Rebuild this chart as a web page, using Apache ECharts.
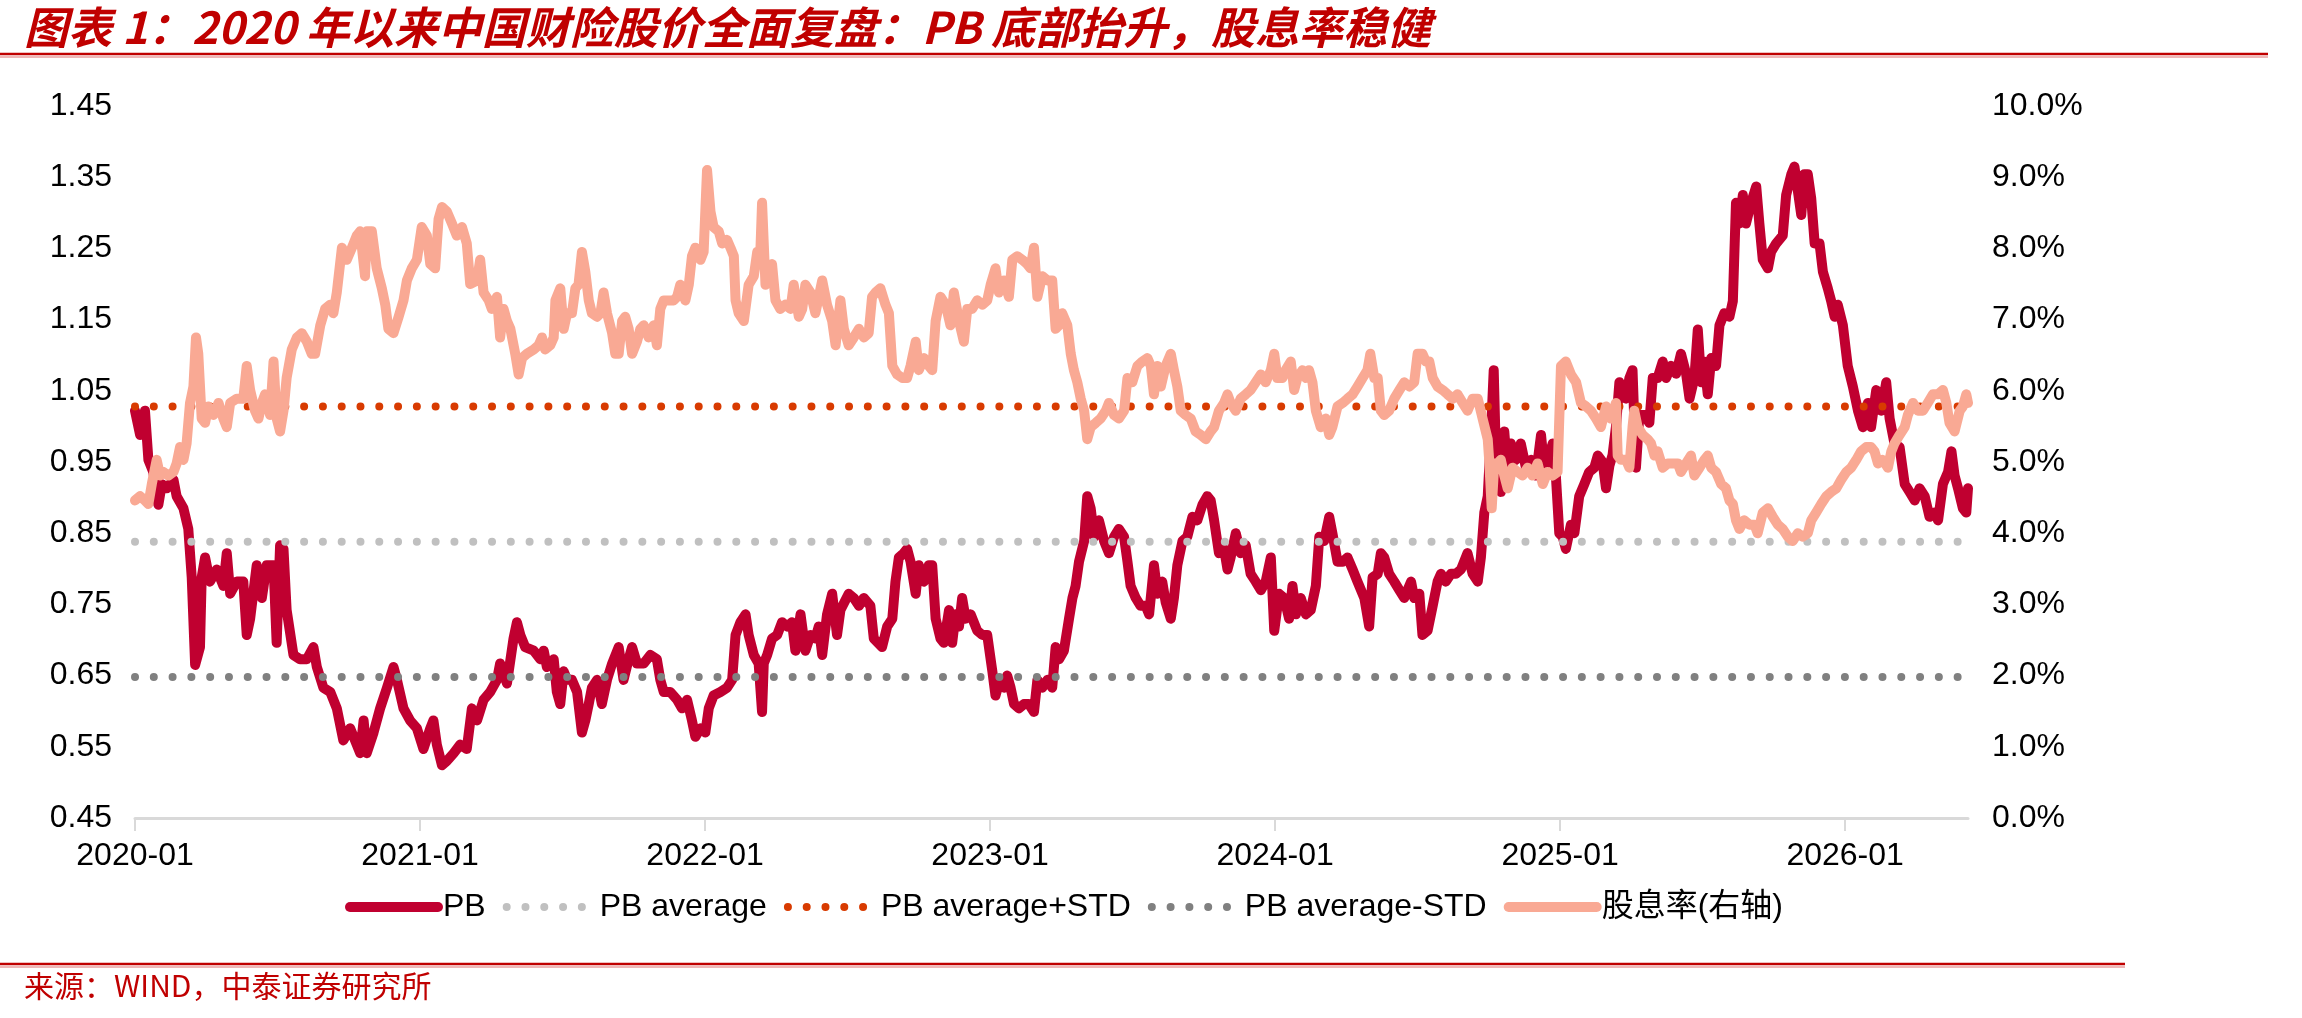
<!DOCTYPE html>
<html>
<head>
<meta charset="utf-8">
<title>中国财险 PB 与股息率</title>
<script src="https://cdn.jsdelivr.net/npm/echarts@6/dist/echarts.min.js"></script>
<style>
  html, body { margin: 0; padding: 0; background: #fff; }
  #main { width: 2302px; height: 1018px; }
</style>
</head>
<body>
<div id="main"></div>
<script>
// x 轴用小数年份表示日期（2020.5 ≈ 2020 年年中）
const xTicks = [2020, 2021, 2022, 2023, 2024, 2025, 2026];
const xTickLabels = ['2020-01', '2021-01', '2022-01', '2023-01', '2024-01', '2025-01', '2026-01'];
const pbTicks = [0.45, 0.55, 0.65, 0.75, 0.85, 0.95, 1.05, 1.15, 1.25, 1.35, 1.45];
const yieldTicks = [0, 1, 2, 3, 4, 5, 6, 7, 8, 9, 10];
const legendNames = ['PB', 'PB average', 'PB average+STD', 'PB average-STD', '股息率(右轴)'];

const dateStart = 2020.0;
const dateEnd = 2026.431;
const pbAverage = 0.838;
const pbAvgPlusStd = 1.028;
const pbAvgMinusStd = 0.648;

// PB，[日期, 值]
const pbData = [
  [2020.000,1.022],[2020.018,0.988],[2020.035,1.022],[2020.047,0.953],[2020.064,0.936],[2020.082,0.890],
  [2020.094,0.919],[2020.111,0.913],[2020.135,0.925],[2020.146,0.902],[2020.170,0.885],[2020.187,0.856],
  [2020.199,0.788],[2020.211,0.665],[2020.228,0.690],[2020.234,0.788],[2020.246,0.816],[2020.263,0.782],
  [2020.287,0.799],[2020.310,0.776],[2020.322,0.822],[2020.334,0.765],[2020.357,0.782],[2020.380,0.782],
  [2020.392,0.707],[2020.404,0.730],[2020.427,0.805],[2020.445,0.759],[2020.462,0.805],[2020.486,0.805],
  [2020.497,0.696],[2020.509,0.833],[2020.521,0.828],[2020.532,0.742],[2020.556,0.679],[2020.579,0.673],
  [2020.603,0.673],[2020.626,0.690],[2020.638,0.662],[2020.661,0.633],[2020.685,0.627],[2020.708,0.604],
  [2020.731,0.559],[2020.755,0.576],[2020.778,0.553],[2020.790,0.541],[2020.802,0.587],[2020.813,0.541],
  [2020.837,0.570],[2020.860,0.604],[2020.884,0.633],[2020.907,0.662],[2020.919,0.644],[2020.942,0.604],
  [2020.965,0.587],[2020.989,0.576],[2021.012,0.547],[2021.036,0.576],[2021.047,0.587],[2021.059,0.553],
  [2021.077,0.524],[2021.094,0.530],[2021.118,0.541],[2021.141,0.553],[2021.164,0.547],[2021.182,0.604],
  [2021.200,0.587],[2021.223,0.616],[2021.246,0.627],[2021.270,0.644],[2021.281,0.667],[2021.305,0.639],
  [2021.328,0.702],[2021.340,0.725],[2021.352,0.707],[2021.369,0.690],[2021.399,0.685],[2021.422,0.673],
  [2021.434,0.685],[2021.445,0.662],[2021.469,0.673],[2021.480,0.627],[2021.492,0.610],[2021.504,0.656],
  [2021.516,0.644],[2021.533,0.644],[2021.551,0.627],[2021.568,0.570],[2021.580,0.587],[2021.592,0.610],
  [2021.603,0.633],[2021.621,0.644],[2021.638,0.610],[2021.656,0.644],[2021.674,0.667],[2021.697,0.690],
  [2021.714,0.644],[2021.732,0.673],[2021.744,0.690],[2021.761,0.667],[2021.785,0.667],[2021.808,0.679],
  [2021.831,0.673],[2021.843,0.644],[2021.855,0.627],[2021.878,0.627],[2021.902,0.616],[2021.919,0.604],
  [2021.937,0.616],[2021.954,0.587],[2021.966,0.564],[2021.984,0.576],[2022.001,0.570],[2022.013,0.604],
  [2022.030,0.622],[2022.054,0.627],[2022.077,0.633],[2022.095,0.644],[2022.107,0.707],[2022.124,0.725],
  [2022.142,0.736],[2022.153,0.707],[2022.171,0.679],[2022.188,0.667],[2022.200,0.599],[2022.206,0.667],
  [2022.218,0.679],[2022.235,0.702],[2022.253,0.707],[2022.270,0.725],[2022.288,0.719],[2022.305,0.725],
  [2022.317,0.685],[2022.335,0.736],[2022.352,0.685],[2022.370,0.707],[2022.387,0.702],[2022.399,0.719],
  [2022.411,0.679],[2022.428,0.736],[2022.446,0.765],[2022.463,0.707],[2022.475,0.742],[2022.504,0.765],
  [2022.522,0.759],[2022.540,0.748],[2022.557,0.759],[2022.580,0.748],[2022.592,0.702],[2022.621,0.690],
  [2022.639,0.719],[2022.657,0.730],[2022.668,0.782],[2022.680,0.816],[2022.697,0.822],[2022.709,0.828],
  [2022.721,0.810],[2022.739,0.765],[2022.750,0.805],[2022.768,0.782],[2022.785,0.805],[2022.797,0.805],
  [2022.809,0.730],[2022.826,0.702],[2022.838,0.696],[2022.856,0.742],[2022.867,0.696],[2022.879,0.736],
  [2022.891,0.719],[2022.902,0.759],[2022.914,0.730],[2022.932,0.736],[2022.955,0.713],[2022.973,0.707],
  [2022.990,0.707],[2023.008,0.656],[2023.019,0.622],[2023.031,0.639],[2023.049,0.633],[2023.060,0.650],
  [2023.072,0.633],[2023.084,0.610],[2023.101,0.604],[2023.119,0.610],[2023.136,0.610],[2023.154,0.599],
  [2023.166,0.644],[2023.183,0.633],[2023.201,0.644],[2023.218,0.633],[2023.230,0.690],[2023.242,0.673],
  [2023.259,0.685],[2023.277,0.730],[2023.289,0.759],[2023.300,0.776],[2023.312,0.810],[2023.330,0.839],
  [2023.341,0.902],[2023.353,0.885],[2023.365,0.845],[2023.382,0.868],[2023.400,0.839],[2023.417,0.822],
  [2023.435,0.845],[2023.452,0.856],[2023.470,0.845],[2023.482,0.810],[2023.493,0.776],[2023.511,0.759],
  [2023.528,0.748],[2023.546,0.748],[2023.558,0.736],[2023.575,0.805],[2023.587,0.765],[2023.604,0.782],
  [2023.616,0.753],[2023.634,0.730],[2023.645,0.759],[2023.657,0.805],[2023.675,0.839],[2023.692,0.845],
  [2023.710,0.873],[2023.727,0.868],[2023.745,0.890],[2023.762,0.902],[2023.774,0.896],[2023.786,0.868],
  [2023.803,0.822],[2023.821,0.828],[2023.833,0.799],[2023.844,0.816],[2023.862,0.850],[2023.879,0.822],
  [2023.897,0.833],[2023.914,0.793],[2023.932,0.782],[2023.950,0.770],[2023.967,0.782],[2023.985,0.816],
  [2023.997,0.713],[2024.014,0.765],[2024.032,0.759],[2024.049,0.730],[2024.061,0.776],[2024.073,0.736],
  [2024.090,0.759],[2024.108,0.736],[2024.125,0.742],[2024.143,0.776],[2024.155,0.845],[2024.172,0.839],
  [2024.190,0.873],[2024.201,0.850],[2024.219,0.810],[2024.237,0.810],[2024.254,0.816],[2024.272,0.799],
  [2024.289,0.782],[2024.313,0.759],[2024.330,0.719],[2024.342,0.788],[2024.360,0.793],[2024.371,0.822],
  [2024.383,0.816],[2024.400,0.793],[2024.418,0.782],[2024.436,0.770],[2024.453,0.759],[2024.477,0.782],
  [2024.488,0.759],[2024.506,0.765],[2024.517,0.707],[2024.535,0.713],[2024.553,0.748],[2024.570,0.782],
  [2024.582,0.793],[2024.599,0.782],[2024.617,0.793],[2024.634,0.793],[2024.652,0.799],[2024.675,0.822],
  [2024.693,0.793],[2024.711,0.782],[2024.722,0.816],[2024.734,0.879],[2024.746,0.902],[2024.757,0.988],
  [2024.767,1.079],[2024.775,0.953],[2024.792,0.908],[2024.804,0.993],[2024.816,0.931],[2024.827,0.976],
  [2024.845,0.953],[2024.862,0.976],[2024.880,0.942],[2024.898,0.953],[2024.915,0.931],[2024.933,0.988],
  [2024.944,0.942],[2024.956,0.953],[2024.974,0.976],[2024.985,0.931],[2024.997,0.850],[2025.009,0.845],
  [2025.020,0.828],[2025.038,0.862],[2025.050,0.850],[2025.067,0.902],[2025.085,0.919],[2025.102,0.936],
  [2025.120,0.942],[2025.132,0.959],[2025.149,0.950],[2025.161,0.913],[2025.173,0.945],[2025.184,0.960],
  [2025.196,1.000],[2025.208,1.062],[2025.219,1.045],[2025.231,1.039],[2025.243,1.068],[2025.254,1.079],
  [2025.266,0.942],[2025.278,1.016],[2025.296,1.016],[2025.313,1.005],[2025.325,1.068],[2025.342,1.068],
  [2025.360,1.091],[2025.372,1.068],[2025.389,1.085],[2025.407,1.074],[2025.424,1.102],[2025.442,1.074],
  [2025.454,1.039],[2025.471,1.068],[2025.483,1.136],[2025.495,1.062],[2025.506,1.091],[2025.518,1.045],
  [2025.530,1.096],[2025.547,1.085],[2025.559,1.142],[2025.576,1.159],[2025.594,1.154],[2025.606,1.176],
  [2025.617,1.314],[2025.629,1.285],[2025.641,1.325],[2025.652,1.285],[2025.670,1.314],[2025.688,1.337],
  [2025.699,1.285],[2025.711,1.234],[2025.729,1.222],[2025.740,1.245],[2025.758,1.257],[2025.781,1.268],
  [2025.793,1.325],[2025.811,1.354],[2025.822,1.365],[2025.834,1.331],[2025.846,1.297],[2025.857,1.354],
  [2025.869,1.354],[2025.881,1.320],[2025.893,1.257],[2025.910,1.257],[2025.922,1.217],[2025.939,1.194],
  [2025.951,1.176],[2025.963,1.154],[2025.974,1.171],[2025.992,1.142],[2026.009,1.085],[2026.027,1.056],
  [2026.045,1.022],[2026.062,0.999],[2026.080,1.033],[2026.091,0.999],[2026.109,1.051],[2026.127,1.022],
  [2026.144,1.062],[2026.156,1.011],[2026.173,0.976],[2026.191,0.971],[2026.209,0.919],[2026.226,0.908],
  [2026.244,0.896],[2026.261,0.913],[2026.279,0.902],[2026.296,0.873],[2026.314,0.879],[2026.326,0.868],
  [2026.343,0.919],[2026.361,0.936],[2026.373,0.965],[2026.384,0.931],[2026.396,0.913],[2026.413,0.885],
  [2026.425,0.879],[2026.431,0.913]
];

// 股息率（%，右轴），[日期, 值]
const dividendYield = [
  [2020.000,4.46],[2020.018,4.52],[2020.035,4.46],[2020.047,4.41],[2020.059,4.69],[2020.076,5.03],
  [2020.088,4.81],[2020.099,4.86],[2020.117,4.81],[2020.135,4.86],[2020.146,4.98],[2020.158,5.21],
  [2020.170,5.03],[2020.181,5.26],[2020.193,5.83],[2020.205,6.06],[2020.214,6.75],[2020.222,6.52],
  [2020.234,5.61],[2020.246,5.55],[2020.257,5.78],[2020.275,5.66],[2020.293,5.83],[2020.310,5.61],
  [2020.322,5.49],[2020.334,5.83],[2020.357,5.89],[2020.380,5.89],[2020.392,6.35],[2020.404,6.01],
  [2020.421,5.72],[2020.433,5.61],[2020.445,5.83],[2020.456,5.95],[2020.474,5.66],[2020.486,6.41],
  [2020.497,5.61],[2020.509,5.43],[2020.521,5.72],[2020.532,6.18],[2020.550,6.58],[2020.568,6.75],
  [2020.585,6.81],[2020.603,6.69],[2020.620,6.52],[2020.632,6.52],[2020.650,6.92],[2020.667,7.15],
  [2020.685,7.21],[2020.696,7.09],[2020.708,7.38],[2020.726,8.01],[2020.743,7.84],[2020.761,8.01],
  [2020.778,8.18],[2020.790,8.24],[2020.807,7.61],[2020.813,8.24],[2020.831,8.24],[2020.848,7.72],
  [2020.866,7.44],[2020.878,7.21],[2020.889,6.87],[2020.907,6.81],[2020.925,7.04],[2020.942,7.27],
  [2020.954,7.55],[2020.971,7.72],[2020.989,7.84],[2021.006,8.30],[2021.024,8.18],[2021.036,7.78],
  [2021.053,7.72],[2021.065,8.41],[2021.077,8.58],[2021.094,8.52],[2021.112,8.35],[2021.129,8.18],
  [2021.147,8.30],[2021.164,8.07],[2021.176,7.50],[2021.200,7.55],[2021.211,7.84],[2021.223,7.38],
  [2021.241,7.27],[2021.252,7.15],[2021.270,7.32],[2021.281,6.75],[2021.293,7.15],[2021.305,6.98],
  [2021.317,6.87],[2021.334,6.52],[2021.346,6.23],[2021.358,6.46],[2021.375,6.52],[2021.399,6.58],
  [2021.416,6.64],[2021.428,6.75],[2021.439,6.58],[2021.457,6.64],[2021.469,6.75],[2021.475,7.27],
  [2021.492,7.44],[2021.504,6.87],[2021.516,7.09],[2021.533,7.09],[2021.545,7.44],[2021.556,7.49],
  [2021.568,7.95],[2021.580,7.67],[2021.592,7.27],[2021.603,7.09],[2021.621,7.04],[2021.633,7.09],
  [2021.644,7.38],[2021.656,7.09],[2021.674,6.81],[2021.685,6.52],[2021.697,6.52],[2021.709,6.98],
  [2021.720,7.04],[2021.732,6.87],[2021.744,6.52],[2021.761,6.69],[2021.773,6.87],[2021.785,6.92],
  [2021.802,6.75],[2021.820,6.92],[2021.831,6.64],[2021.843,7.15],[2021.855,7.27],[2021.872,7.27],
  [2021.890,7.27],[2021.902,7.32],[2021.913,7.49],[2021.931,7.27],[2021.943,7.49],[2021.954,7.89],
  [2021.966,8.01],[2021.984,7.84],[2021.995,7.95],[2022.007,9.10],[2022.019,8.52],[2022.030,8.30],
  [2022.048,8.24],[2022.060,8.07],[2022.077,8.12],[2022.089,8.01],[2022.101,7.89],[2022.107,7.27],
  [2022.118,7.09],[2022.136,6.98],[2022.153,7.49],[2022.171,7.61],[2022.183,7.95],[2022.194,7.95],
  [2022.200,8.64],[2022.212,7.49],[2022.224,7.67],[2022.235,7.78],[2022.247,7.27],[2022.264,7.15],
  [2022.282,7.21],[2022.300,7.15],[2022.311,7.49],[2022.329,7.04],[2022.341,7.15],[2022.352,7.49],
  [2022.370,7.38],[2022.387,7.09],[2022.399,7.32],[2022.411,7.55],[2022.428,7.21],[2022.446,6.98],
  [2022.458,6.64],[2022.475,7.27],[2022.487,6.87],[2022.504,6.64],[2022.522,6.75],[2022.540,6.87],
  [2022.557,6.75],[2022.574,6.81],[2022.586,7.32],[2022.598,7.38],[2022.615,7.44],[2022.633,7.21],
  [2022.645,7.09],[2022.657,6.35],[2022.674,6.23],[2022.692,6.18],[2022.709,6.18],[2022.721,6.35],
  [2022.739,6.69],[2022.750,6.29],[2022.768,6.46],[2022.785,6.35],[2022.797,6.29],[2022.809,6.98],
  [2022.826,7.32],[2022.844,7.21],[2022.861,6.92],[2022.873,7.38],[2022.891,6.98],[2022.908,6.69],
  [2022.920,7.15],[2022.937,7.15],[2022.955,7.27],[2022.973,7.21],[2022.990,7.27],[2023.002,7.49],
  [2023.019,7.72],[2023.031,7.38],[2023.049,7.55],[2023.066,7.32],[2023.078,7.84],[2023.095,7.89],
  [2023.113,7.84],[2023.130,7.78],[2023.142,7.72],[2023.154,8.01],[2023.166,7.32],[2023.183,7.61],
  [2023.201,7.55],[2023.218,7.55],[2023.230,6.87],[2023.242,6.92],[2023.253,7.09],[2023.271,6.92],
  [2023.283,6.52],[2023.294,6.29],[2023.306,6.12],[2023.318,5.89],[2023.330,5.72],[2023.341,5.32],
  [2023.353,5.49],[2023.371,5.55],[2023.388,5.61],[2023.406,5.72],[2023.417,5.83],[2023.435,5.66],
  [2023.452,5.61],[2023.470,5.72],[2023.482,6.18],[2023.499,6.12],[2023.517,6.35],[2023.534,6.41],
  [2023.552,6.46],[2023.564,6.35],[2023.575,5.95],[2023.587,6.35],[2023.599,6.06],[2023.616,6.35],
  [2023.634,6.52],[2023.645,6.29],[2023.657,6.06],[2023.669,5.72],[2023.686,5.66],[2023.704,5.61],
  [2023.721,5.43],[2023.739,5.38],[2023.757,5.32],[2023.774,5.43],[2023.786,5.49],[2023.803,5.72],
  [2023.821,5.83],[2023.833,5.95],[2023.844,5.83],[2023.862,5.72],[2023.879,5.89],[2023.897,5.95],
  [2023.914,6.01],[2023.932,6.12],[2023.950,6.23],[2023.967,6.12],[2023.985,6.29],[2023.997,6.52],
  [2024.008,6.18],[2024.026,6.18],[2024.037,6.29],[2024.055,6.41],[2024.067,6.01],[2024.078,6.18],
  [2024.096,6.29],[2024.108,6.18],[2024.119,6.29],[2024.131,6.12],[2024.143,5.72],[2024.160,5.49],
  [2024.178,5.61],[2024.190,5.38],[2024.201,5.49],[2024.219,5.78],[2024.237,5.83],[2024.254,5.89],
  [2024.272,5.95],[2024.289,6.06],[2024.307,6.18],[2024.324,6.29],[2024.334,6.52],[2024.348,6.18],
  [2024.360,6.18],[2024.371,5.72],[2024.383,5.66],[2024.400,5.72],[2024.418,5.89],[2024.436,6.01],
  [2024.453,6.12],[2024.471,6.06],[2024.488,6.12],[2024.500,6.52],[2024.517,6.52],[2024.529,6.41],
  [2024.541,6.41],[2024.553,6.18],[2024.570,6.06],[2024.588,6.01],[2024.605,5.95],[2024.623,5.89],
  [2024.640,5.95],[2024.658,5.83],[2024.675,5.72],[2024.693,5.89],[2024.711,5.89],[2024.728,5.61],
  [2024.746,5.32],[2024.751,5.03],[2024.760,4.35],[2024.769,4.98],[2024.781,4.98],[2024.792,5.03],
  [2024.804,4.81],[2024.816,4.63],[2024.833,4.92],[2024.851,4.86],[2024.868,4.81],[2024.886,4.92],
  [2024.903,4.81],[2024.921,4.98],[2024.939,4.69],[2024.956,4.86],[2024.974,4.81],[2024.991,4.86],
  [2025.003,6.35],[2025.020,6.41],[2025.038,6.23],[2025.056,6.12],[2025.073,5.83],[2025.091,5.78],
  [2025.108,5.72],[2025.126,5.61],[2025.143,5.49],[2025.161,5.78],[2025.178,5.61],[2025.196,5.83],
  [2025.202,5.09],[2025.213,5.03],[2025.231,5.03],[2025.243,4.92],[2025.254,5.49],[2025.260,5.72],
  [2025.272,5.49],[2025.290,5.38],[2025.307,5.32],[2025.319,5.26],[2025.331,5.09],[2025.342,5.15],
  [2025.360,4.92],[2025.378,4.98],[2025.395,4.98],[2025.413,4.98],[2025.424,4.86],[2025.442,4.98],
  [2025.459,5.09],[2025.471,4.81],[2025.489,4.92],[2025.506,5.03],[2025.518,5.09],[2025.530,4.92],
  [2025.547,4.86],[2025.565,4.69],[2025.582,4.63],[2025.594,4.46],[2025.606,4.41],[2025.617,4.18],
  [2025.629,4.06],[2025.646,4.18],[2025.664,4.12],[2025.682,4.12],[2025.693,4.00],[2025.711,4.29],
  [2025.729,4.35],[2025.746,4.23],[2025.764,4.12],[2025.781,4.06],[2025.799,3.95],[2025.816,3.89],
  [2025.834,4.00],[2025.851,3.95],[2025.869,4.00],[2025.881,4.18],[2025.898,4.29],[2025.916,4.41],
  [2025.934,4.52],[2025.951,4.58],[2025.969,4.63],[2025.986,4.75],[2026.004,4.86],[2026.021,4.92],
  [2026.039,5.03],[2026.056,5.15],[2026.074,5.21],[2026.091,5.21],[2026.103,5.15],[2026.115,4.98],
  [2026.132,5.03],[2026.150,4.92],[2026.162,5.15],[2026.173,5.26],[2026.191,5.38],[2026.209,5.49],
  [2026.220,5.66],[2026.238,5.83],[2026.255,5.72],[2026.273,5.72],[2026.290,5.83],[2026.308,5.95],
  [2026.326,5.95],[2026.343,6.01],[2026.355,5.83],[2026.366,5.55],[2026.384,5.43],[2026.402,5.72],
  [2026.413,5.78],[2026.425,5.95],[2026.431,5.83]
];

const FONT = "'Liberation Sans', Arial, 'Noto Sans CJK SC', sans-serif";
const CJK = "'Noto Sans CJK SC', 'Liberation Sans', sans-serif";

let myChart = echarts.init(document.getElementById('main'));

function flatLine(v) {
  return [[dateStart, v], [dateEnd, v]];
}

function dotted(color) {
  return {
    color: color,
    width: 8,
    type: [0.01, 18.78],
    cap: 'round'
  };
}

let option = {
  animation: false,
  backgroundColor: '#ffffff',
  title: {
    text: '图表 1：2020 年以来中国财险股价全面复盘：PB 底部抬升，股息率稳健',
    left: 24,
    top: 5,
    padding: 0,
    textStyle: {
      color: '#C00000',
      fontSize: 44,
      fontStyle: 'italic',
      fontWeight: 'bold',
      fontFamily: CJK
    }
  },
  legend: {
    data: legendNames,
    left: 345,
    top: 891,
    padding: 0,
    itemWidth: 88,
    itemHeight: 10,
    itemGap: 17,
    itemStyle: { opacity: 0 },
    lineStyle: { width: 'inherit' },
    textStyle: { color: '#000', fontSize: 32, fontFamily: FONT }
  },
  grid: {
    left: 135,
    right: 334,
    top: 106,
    bottom: 200
  },
  xAxis: {
    type: 'value',
    min: dateStart,
    max: dateEnd,
    splitLine: { show: false },
    axisLine: { show: true, lineStyle: { color: '#D9D9D9', width: 3 } },
    axisTick: {
      show: true,
      customValues: xTicks,
      length: 13,
      lineStyle: { color: '#D9D9D9', width: 2 }
    },
    axisLabel: {
      customValues: xTicks,
      margin: 22,
      color: '#000',
      fontSize: 32,
      fontFamily: FONT,
      formatter: function (v) {
        let i = xTicks.indexOf(Math.round(v));
        return i >= 0 ? xTickLabels[i] : '';
      }
    }
  },
  yAxis: [
    {
      type: 'value',
      min: 0.45,
      max: 1.45,
      splitLine: { show: false },
      axisLine: { show: false },
      axisTick: { show: false },
      axisLabel: {
        customValues: pbTicks,
        margin: 23,
        color: '#000',
        fontSize: 32,
        fontFamily: FONT,
        formatter: function (v) { return v.toFixed(2); }
      }
    },
    {
      type: 'value',
      min: 0,
      max: 10,
      splitLine: { show: false },
      axisLine: { show: false },
      axisTick: { show: false },
      axisLabel: {
        customValues: yieldTicks,
        margin: 24,
        color: '#000',
        fontSize: 32,
        fontFamily: FONT,
        formatter: function (v) { return v.toFixed(1) + '%'; }
      }
    }
  ],
  series: [
    {
      name: 'PB',
      type: 'line',
      yAxisIndex: 0,
      symbol: 'none',
      showSymbol: false,
      color: '#C00030',
      lineStyle: { color: '#C00030', width: 10, join: 'round', cap: 'round' },
      data: pbData
    },
    {
      name: 'PB average',
      type: 'line',
      yAxisIndex: 0,
      symbol: 'none',
      color: '#C0C0C0',
      lineStyle: dotted('#C0C0C0'),
      data: flatLine(pbAverage)
    },
    {
      name: 'PB average+STD',
      type: 'line',
      yAxisIndex: 0,
      symbol: 'none',
      color: '#D83B01',
      lineStyle: dotted('#D83B01'),
      data: flatLine(pbAvgPlusStd)
    },
    {
      name: 'PB average-STD',
      type: 'line',
      yAxisIndex: 0,
      symbol: 'none',
      color: '#808080',
      lineStyle: dotted('#808080'),
      data: flatLine(pbAvgMinusStd)
    },
    {
      name: '股息率(右轴)',
      type: 'line',
      yAxisIndex: 1,
      symbol: 'none',
      showSymbol: false,
      color: '#F9A994',
      lineStyle: { color: '#F9A994', width: 10, join: 'round', cap: 'round' },
      data: dividendYield
    }
  ],
  graphic: [
    { type: 'line', shape: { x1: 0, y1: 54, x2: 2268, y2: 54 }, style: { stroke: '#C00000', lineWidth: 2.5 } },
    { type: 'line', shape: { x1: 0, y1: 57, x2: 2268, y2: 57 }, style: { stroke: '#E07070', lineWidth: 1.2 } },
    { type: 'line', shape: { x1: 0, y1: 964, x2: 2125, y2: 964 }, style: { stroke: '#C00000', lineWidth: 2.5 } },
    { type: 'line', shape: { x1: 0, y1: 967, x2: 2125, y2: 967 }, style: { stroke: '#E07070', lineWidth: 1.2 } },
    {
      type: 'text',
      left: 24,
      top: 971,
      style: {
        text: '来源：WIND，中泰证券研究所',
        fill: '#C00000',
        fontSize: 30,
        fontFamily: CJK
      }
    }
  ]
};

myChart.setOption(option);
</script>
</body>
</html>
